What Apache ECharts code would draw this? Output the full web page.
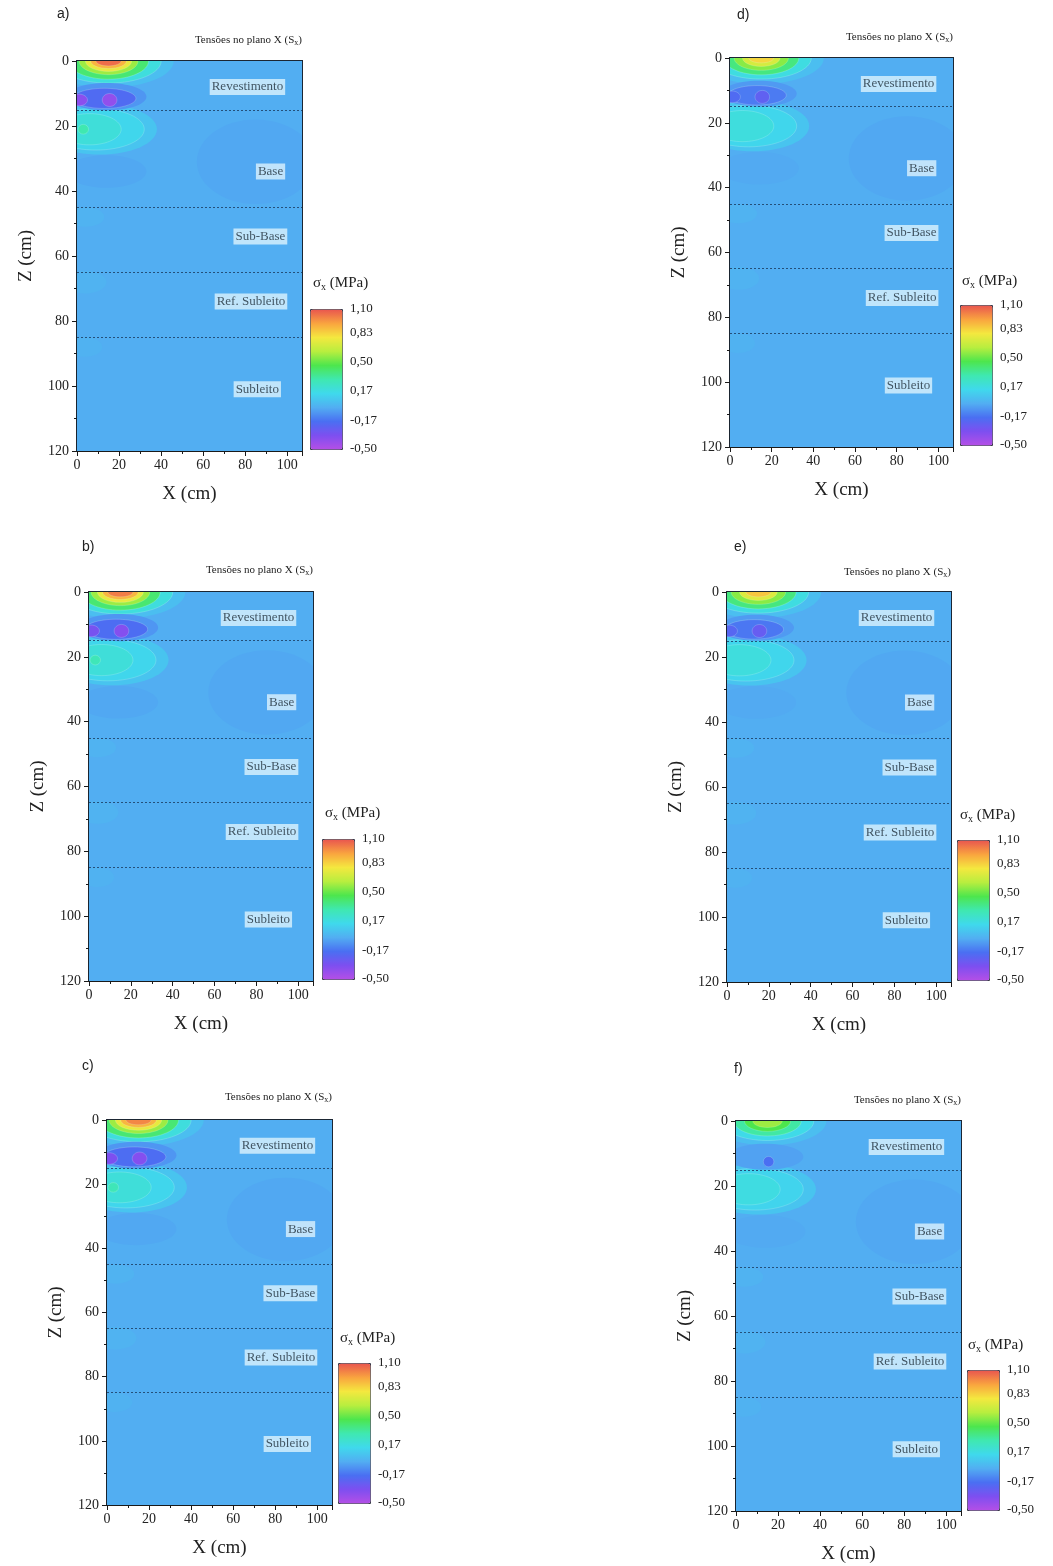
<!DOCTYPE html>
<html>
<head>
<meta charset="utf-8">
<script src="https://cdn.jsdelivr.net/npm/echarts@6/dist/echarts.min.js"></script>
<style>html,body{margin:0;padding:0;background:#fff}#chart{width:1053px;height:1566px}</style>
</head>
<body>
<div id="chart"></div>
<script>
// camadas do pavimento
let layerNames = ['Revestimento', 'Base', 'Sub-Base', 'Ref. Subleito', 'Subleito'];
let layerLabelX = [99, 99, 100, 100, 97];
let layerLabelZ = [8, 34, 54, 74, 101];
let layerBounds = [15, 45, 65, 85];
let cbTicks = [-0.5, -0.17, 0.17, 0.5, 0.83, 1.1];
let panelLetters = ['a)', 'b)', 'c)', 'd)', 'e)', 'f)'];

// regioes do campo de tensao: [x centro, z centro, raio x, raio z, Sx (MPa)]
let blobsA = [
    [53, 60, 200, 200, -0.02],
    [85, 31, 28, 13, -0.035],
    [14, 34, 19, 5, -0.035],
    [4, 48, 9, 3, 0.0],
    [4, 68, 10, 3.5, 0.0],
    [4, 88, 8, 3, -0.005],
    [11, 21, 27, 7.8, 0.06],
    [9, 21, 23, 6.4, 0.13],
    [6, 21, 15, 4.8, 0.19],
    [3, 21, 2.5, 1.5, 0.3],
    [15, 0, 31, 8.2, 0.04],
    [15, 0, 25, 6.8, 0.18],
    [15, 0, 19, 5.6, 0.4],
    [15, 0, 14, 4.2, 0.58],
    [15, 0, 11, 3.2, 0.75],
    [15, 0, 8.5, 2.3, 0.9],
    [15, 0, 6, 1.5, 1.05],
    [14, 11, 19, 4.2, -0.08],
    [13, 11.5, 15, 3.1, -0.2],
    [15.5, 12, 3.5, 2, -0.4],
    [1, 12, 4, 1.8, -0.38]
];
let blobsB = [
    [53, 60, 200, 200, -0.02],
    [85, 31, 28, 13, -0.035],
    [14, 34, 19, 5, -0.035],
    [4, 48, 9, 3, 0.0],
    [4, 68, 10, 3.5, 0.0],
    [4, 88, 8, 3, -0.005],
    [11, 21, 27, 7.8, 0.06],
    [9, 21, 23, 6.4, 0.13],
    [6, 21, 15, 4.8, 0.19],
    [3, 21, 2.5, 1.5, 0.28],
    [15, 0, 31, 8.2, 0.04],
    [15, 0, 25, 6.8, 0.18],
    [15, 0, 19, 5.6, 0.4],
    [15, 0, 14, 4.2, 0.58],
    [15, 0, 11, 3.2, 0.75],
    [15, 0, 8.5, 2.3, 0.9],
    [15, 0, 6, 1.5, 1.02],
    [14, 11, 19, 4.2, -0.08],
    [13, 11.5, 15, 3.1, -0.19],
    [15.5, 12, 3.5, 2, -0.36],
    [1, 12, 4, 1.8, -0.32]
];
let blobsC = [
    [53, 60, 200, 200, -0.02],
    [85, 31, 28, 13, -0.035],
    [14, 34, 19, 5, -0.035],
    [4, 48, 9, 3, 0.0],
    [4, 68, 10, 3.5, 0.0],
    [4, 88, 8, 3, -0.005],
    [11, 21, 27, 7.8, 0.06],
    [9, 21, 23, 6.4, 0.13],
    [6, 21, 15, 4.8, 0.19],
    [3, 21, 2.5, 1.5, 0.28],
    [15, 0, 31, 8.2, 0.04],
    [15, 0, 25, 6.8, 0.18],
    [15, 0, 19, 5.6, 0.4],
    [15, 0, 14, 4.2, 0.58],
    [15, 0, 11, 3.2, 0.75],
    [15, 0, 8.5, 2.3, 0.9],
    [15, 0, 6, 1.5, 1.0],
    [14, 11, 19, 4.2, -0.08],
    [13, 11.5, 15, 3.1, -0.19],
    [15.5, 12, 3.5, 2, -0.36],
    [1, 12, 4, 1.8, -0.34]
];
let blobsD = [
    [53, 60, 200, 200, -0.02],
    [85, 31, 28, 13, -0.035],
    [14, 34, 19, 5, -0.03],
    [4, 48, 9, 3, 0.0],
    [4, 68, 10, 3.5, 0.0],
    [4, 88, 8, 3, -0.005],
    [11, 21, 27, 7.8, 0.06],
    [9, 21, 23, 6.4, 0.13],
    [6, 21, 15, 4.8, 0.18],
    [15, 0, 30, 8, 0.04],
    [15, 0, 24, 6.5, 0.17],
    [15, 0, 18, 5.2, 0.38],
    [15, 0, 13, 3.8, 0.55],
    [15, 0, 9, 2.6, 0.7],
    [15, 0, 6, 1.5, 0.82],
    [14, 11, 18, 4, -0.07],
    [13, 11.5, 14, 3, -0.15],
    [15.5, 12, 3.5, 2, -0.25],
    [1, 12, 4, 1.8, -0.2]
];
let blobsE = [
    [53, 60, 200, 200, -0.02],
    [85, 31, 28, 13, -0.035],
    [14, 34, 19, 5, -0.03],
    [4, 48, 9, 3, 0.0],
    [4, 68, 10, 3.5, 0.0],
    [4, 88, 8, 3, -0.005],
    [11, 21, 27, 7.8, 0.06],
    [9, 21, 23, 6.4, 0.13],
    [6, 21, 15, 4.8, 0.18],
    [15, 0, 30, 8, 0.04],
    [15, 0, 24, 6.5, 0.17],
    [15, 0, 18, 5.2, 0.38],
    [15, 0, 13, 3.8, 0.55],
    [15, 0, 9, 2.6, 0.72],
    [15, 0, 6, 1.5, 0.86],
    [14, 11, 18, 4, -0.07],
    [13, 11.5, 14, 3, -0.16],
    [15.5, 12, 3.5, 2, -0.27],
    [1, 12, 4, 1.8, -0.22]
];
let blobsF = [
    [53, 60, 200, 200, -0.02],
    [85, 31, 28, 13, -0.035],
    [14, 34, 19, 5, -0.03],
    [4, 48, 9, 3, 0.0],
    [4, 68, 10, 3.5, 0.0],
    [4, 88, 8, 3, -0.005],
    [11, 21, 27, 7.8, 0.06],
    [9, 21, 23, 6.4, 0.12],
    [6, 21, 15, 4.8, 0.17],
    [15, 0, 28, 7.5, 0.04],
    [15, 0, 22, 6, 0.15],
    [15, 0, 16, 4.6, 0.32],
    [15, 0, 11, 3.2, 0.46],
    [15, 0, 7, 2, 0.58],
    [14, 11, 18, 4, -0.05],
    [15.5, 12.5, 2.5, 1.6, -0.18]
];
let panelBlobs = [blobsA, blobsB, blobsC, blobsD, blobsE, blobsF];

let cmap = ['#b44fe6', '#7d4ff0', '#4a6ff2', '#52aef2', '#3fd9ec', '#3fe8b0',
    '#4de64d', '#b8ee3f', '#f4e83f', '#f9a43f', '#e9564f'];

let layout = [
    {left: 77, top: 61, w: 225, h: 390, cbLeft: 310, cbTop: 309, titleTop: 34, letter: [57, 7], sigma: [313, 275]},
    {left: 89, top: 592, w: 224, h: 389, cbLeft: 322, cbTop: 839, titleTop: 564, letter: [82, 540], sigma: [325, 805]},
    {left: 107, top: 1120, w: 225, h: 385, cbLeft: 338, cbTop: 1363, titleTop: 1091, letter: [82, 1059], sigma: [340, 1330]},
    {left: 730, top: 58, w: 223, h: 389, cbLeft: 960, cbTop: 305, titleTop: 31, letter: [737, 8], sigma: [962, 273]},
    {left: 727, top: 592, w: 224, h: 390, cbLeft: 957, cbTop: 840, titleTop: 566, letter: [734, 540], sigma: [960, 807]},
    {left: 736, top: 1121, w: 225, h: 390, cbLeft: 967, cbTop: 1370, titleTop: 1094, letter: [734, 1062], sigma: [968, 1337]}
];

let serif = 'Liberation Serif';

function renderBlob(params, api) {
    let c = api.coord([api.value(0), api.value(1)]);
    let s = api.size([api.value(2), api.value(3)]);
    let edge = Math.abs(api.value(4)) >= 0.1;   // linhas de contorno so nas regioes fortes
    return {
        type: 'ellipse',
        shape: {cx: c[0], cy: c[1], rx: s[0], ry: s[1]},
        style: {
            fill: api.visual('color'),
            stroke: edge ? 'rgba(225,255,240,0.3)' : null,
            lineWidth: 0.7
        }
    };
}

let grid = [], xAxis = [], yAxis = [], series = [], title = [], visualMap = [];

layout.forEach(function (L, p) {
    let gi = 2 * p;
    grid.push({left: L.left, top: L.top, width: L.w, height: L.h, show: true,
        borderColor: '#1b2633', borderWidth: 2, backgroundColor: 'transparent'});
    grid.push({left: L.cbLeft, top: L.cbTop, width: 32, height: 140});

    xAxis.push({
        type: 'value', gridIndex: gi, min: 0, max: 107, interval: 20,
        name: 'X (cm)', nameLocation: 'middle', nameGap: 34,
        nameTextStyle: {fontFamily: serif, fontSize: 19, color: '#222'},
        axisLine: {onZero: false, lineStyle: {color: '#1a1a1a', width: 1.2}},
        axisTick: {length: 5, lineStyle: {color: '#1a1a1a'}},
        minorTick: {show: true, splitNumber: 2, length: 3, lineStyle: {color: '#1a1a1a'}},
        splitLine: {show: false},
        axisLabel: {fontFamily: serif, fontSize: 14, color: '#222', margin: 7, showMaxLabel: false}
    });
    xAxis.push({type: 'value', gridIndex: gi + 1, min: 0, max: 1, show: false});

    yAxis.push({
        type: 'value', gridIndex: gi, inverse: true, min: 0, max: 120, interval: 20,
        name: 'Z (cm)', nameLocation: 'middle', nameRotate: 90, nameGap: 41,
        nameTextStyle: {fontFamily: serif, fontSize: 19, color: '#222'},
        axisLine: {onZero: false, lineStyle: {color: '#1a1a1a', width: 1.2}},
        axisTick: {length: 5, lineStyle: {color: '#1a1a1a'}},
        minorTick: {show: true, splitNumber: 2, length: 3, lineStyle: {color: '#1a1a1a'}},
        splitLine: {show: false},
        axisLabel: {fontFamily: serif, fontSize: 14, color: '#222', margin: 8}
    });
    yAxis.push({
        type: 'value', gridIndex: gi + 1, position: 'right', min: -0.5, max: 1.1,
        axisLine: {show: false}, axisTick: {show: false}, splitLine: {show: false},
        axisLabel: {
            customValues: cbTicks, margin: 8, fontFamily: serif, fontSize: 13, color: '#222',
            formatter: function (v) { return v.toFixed(2).replace('.', ','); }
        }
    });

    series.push({
        type: 'custom', xAxisIndex: gi, yAxisIndex: gi, clip: true, z: 2,
        renderItem: renderBlob, encode: {x: 0, y: 1}, data: panelBlobs[p], animation: false
    });
    series.push({
        type: 'scatter', xAxisIndex: gi, yAxisIndex: gi, symbolSize: 0, z: 5,
        itemStyle: {color: 'transparent'}, silent: true, animation: false,
        data: layerNames.map(function (n, i) { return {name: n, value: [layerLabelX[i], layerLabelZ[i]]}; }),
        label: {
            show: true, position: 'left', distance: 0, formatter: '{b}',
            fontFamily: serif, fontSize: 13, color: '#1c2a36',
            backgroundColor: 'rgba(232,248,253,0.92)', padding: [2, 2, 1, 2]
        },
        markLine: {
            silent: true, symbol: 'none', label: {show: false}, animation: false,
            lineStyle: {color: '#24507a', type: [2, 2], width: 1},
            data: layerBounds.map(function (z) { return {yAxis: z}; })
        }
    });

    visualMap.push({
        type: 'continuous', min: -0.5, max: 1.1, dimension: 4, seriesIndex: gi,
        calculable: false, orient: 'vertical', left: L.cbLeft, top: L.cbTop,
        itemWidth: 32, itemHeight: 140, padding: 0, borderWidth: 1, borderColor: '#3a3a4a',
        inRange: {color: cmap}
    });

    title.push({
        text: panelLetters[p], left: L.letter[0], top: L.letter[1], padding: 0,
        textStyle: {fontFamily: 'Liberation Sans', fontSize: 14, fontWeight: 'normal', color: '#222'}
    });
    title.push({
        text: 'Tensões no plano X (S{sub|x})', right: 1053 - (L.left + L.w), top: L.titleTop, padding: 0,
        textStyle: {
            fontFamily: serif, fontSize: 11, fontWeight: 'normal', color: '#222',
            rich: {sub: {fontFamily: serif, fontSize: 8, color: '#222', padding: [5, 0, 0, 0]}}
        }
    });
    title.push({
        text: 'σ{sub|x} (MPa)', left: L.sigma[0], top: L.sigma[1], padding: 0,
        textStyle: {
            fontFamily: serif, fontSize: 15, fontWeight: 'normal', color: '#222',
            rich: {sub: {fontFamily: serif, fontSize: 10, color: '#222', padding: [7, 0, 0, 0]}}
        }
    });
});

let chart = echarts.init(document.getElementById('chart'));
chart.setOption({
    backgroundColor: '#fff',
    animation: false,
    title: title,
    grid: grid,
    xAxis: xAxis,
    yAxis: yAxis,
    visualMap: visualMap,
    series: series
});
</script>
</body>
</html>
